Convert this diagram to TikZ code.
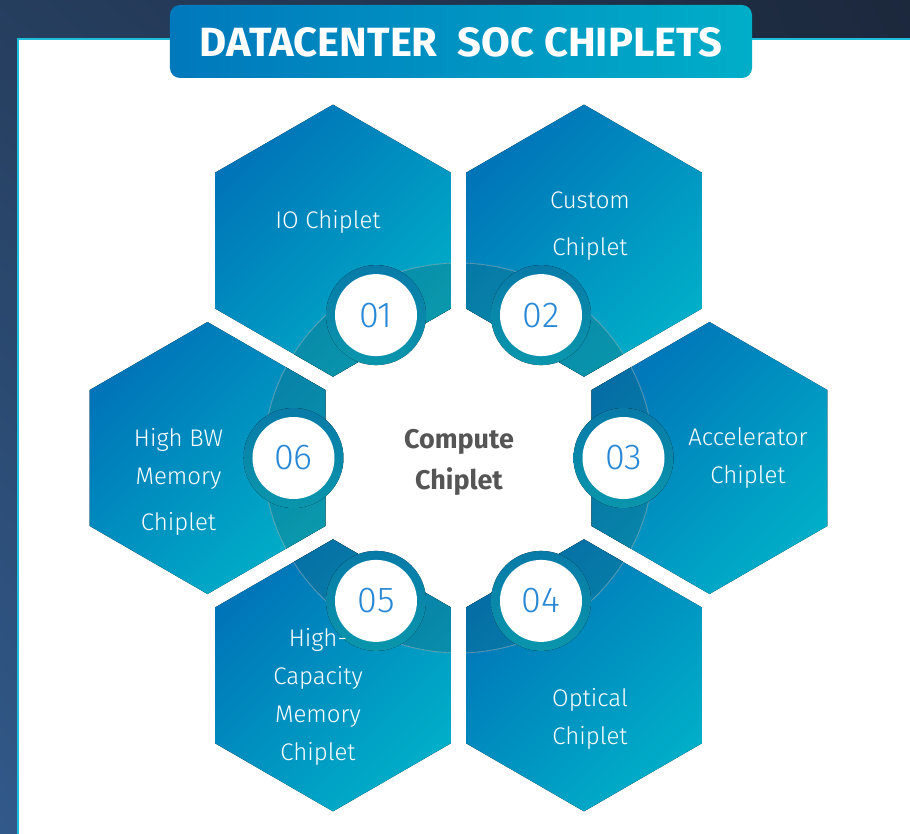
\documentclass[tikz,border=0pt]{standalone}
\usepackage{graphicx}
\usepackage{fontspec}
\setmainfont{Fira Sans}
\newfontfamily\lightfont{Fira Sans Light}
\usetikzlibrary{calc,shadings}
\definecolor{bgUL}{RGB}{38,62,94}
\definecolor{bgLL}{RGB}{49,89,138}
\definecolor{bgUR}{RGB}{28,40,60}
\definecolor{bgLR}{RGB}{30,50,75}
\definecolor{edgecol}{RGB}{30,190,218}
\definecolor{titA}{RGB}{0,120,188}
\definecolor{titB}{RGB}{0,174,200}
\definecolor{hexA}{RGB}{0,116,184}
\definecolor{hexB}{RGB}{0,174,200}
\definecolor{bandA}{RGB}{5,110,165}
\definecolor{bandB}{RGB}{10,152,172}
\definecolor{ringA}{RGB}{8,122,168}
\definecolor{ringB}{RGB}{10,150,172}
\definecolor{numcol}{RGB}{40,136,214}
\definecolor{ctext}{RGB}{85,85,85}
\def\hexpath{(90:136) -- (150:136) -- (210:136) -- (270:136) -- (330:136) -- (30:136) -- cycle}
\begin{document}
\begin{tikzpicture}[x=1pt,y=1pt,
  hexfill/.style={top color=hexA, bottom color=hexB, shading angle=45},
  bandfill/.style={top color=bandA, bottom color=bandB, shading angle=45},
  ringfill/.style={top color=ringA, bottom color=ringB},
  numcirc/.style={circle, fill=white, minimum size=82pt, inner sep=0pt, text=numcol, font=\lightfont\fontsize{36}{36}\selectfont},
  lab/.style={text=white, align=center, inner sep=0pt, font=\lightfont\fontsize{24}{38}\selectfont},
  bandline/.style={draw=white, draw opacity=0.35, line width=0.8pt}]
\useasboundingbox (-458.5,-375) rectangle (451.5,458);
% background
\shade[shading=bilinear interpolation, upper left=bgUL, lower left=bgLL, upper right=bgUR, lower right=bgLR] (-458.5,-375) rectangle (451.5,458);
% white panel
\fill[white] (-440.5,-380) rectangle (460,419);
\draw[edgecol, line width=2.2pt] (-440.5,-380) -- (-440.5,419) -- (460,419);
% title box
\shade[rounded corners=10pt, left color=titA, right color=titB] (-288.5,380) rectangle (293.5,453);
\node[inner sep=0pt, text=white] (title) at (2.5,415.5) {\resizebox{522pt}{29pt}{\bfseries DATACENTER\ \ SOC CHIPLETS}};
% hexagons
\foreach \a in {120,60,0,300,240,180} {
  \fill[hexfill, shift={(\a:251)}] \hexpath;
}
% band
\begin{scope}
  \clip (0,0) circle (195);
  \foreach \a in {120,60,0,300,240,180} {
    \fill[bandfill, shift={(\a:251)}] \hexpath;
  }
\end{scope}
\foreach \a in {120,60,0,300,240,180} {
  \begin{scope}
    \clip[shift={(\a:251)}] \hexpath;
    \draw[bandline] (0,0) circle (195);
  \end{scope}
}
% rings and number circles
\foreach \a in {120,60,0,300,240,180} {
  \fill[ringfill] (\a:165) circle (50);
}
\node[numcirc] (n1) at (120:165) {01};
\node[numcirc] (n2) at (60:165) {02};
\node[numcirc] (n3) at (0:165) {03};
\node[numcirc] (n4) at (300:165) {04};
\node[numcirc] (n5) at (240:165) {05};
\node[numcirc] (n6) at (180:165) {06};
% labels
\node[lab] (l1) at (-130.5,236) {IO Chiplet};
\node[lab] (l2) at (131.5,231.5) {Custom\\[9pt]Chiplet};
\node[lab] (l3) at (289.5,0) {Accelerator\\Chiplet};
\node[lab] (l4) at (131.5,-261) {Optical\\Chiplet};
\node[lab] (l5) at (-140.5,-238.5) {High-\\Capacity\\Memory\\Chiplet};
\node[lab] (l6) at (-280,-24) {High BW\\Memory\\[8pt]Chiplet};
\node[text=ctext, align=center, inner sep=0pt, font=\bfseries\fontsize{27}{41}\selectfont] (comp) at (0.5,-4.5) {Compute\\Chiplet};
\end{tikzpicture}
\end{document}
